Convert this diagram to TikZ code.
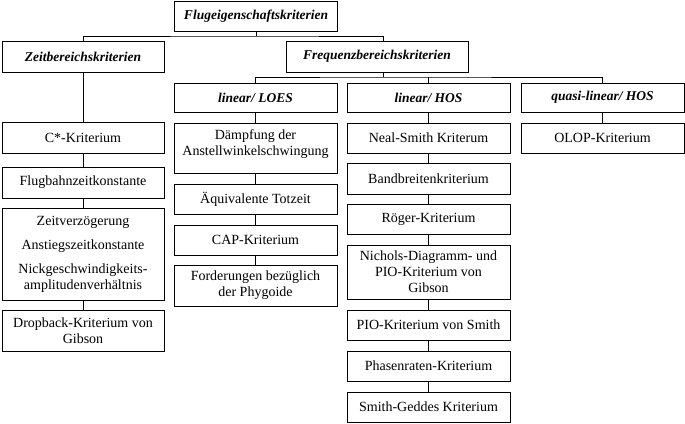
\documentclass[tikz,border=0pt]{standalone}
\usepackage{fontspec}
\setmainfont{Liberation Serif}
\usepackage{tikz}

\begin{document}
\begin{tikzpicture}[x=1pt,y=-1pt,
        box/.style={draw,line width=0.8pt,align=center,inner sep=0pt,
            minimum width=163pt,minimum height=#1,
            font=\fontsize{14}{16}\selectfont},
        box/.default=30pt,
        head/.style={box=#1,font=\fontsize{13.5}{16}\selectfont\bfseries\itshape},
        head/.default=30pt,
        link/.style={line width=0.8pt}]
        \useasboundingbox (0,0) rectangle (685,423);
        % Kopf und erste Ebene
        \node[head] (top) at (256,16) {Flugeigenschaftskriterien};
        \node[head=31pt,minimum width=162pt] (zeit) at (83,56.5) {Zeitbereichskriterien};
        \node[head=31pt,minimum width=182pt] (freq) at (377,56.5) {Frequenzbereichskriterien};
        \node[head=29pt] (loes) at (255.5,97.5) {linear/ LOES};
        \node[head=29pt] (hos) at (428.5,97.5) {linear/ HOS};
        \node[head=29pt] (quasi) at (602.5,97.5) {quasi-linear/ HOS};
        % Zeitbereich
        \node[box=31pt,minimum width=162pt] (cstar) at (83,137.5) {C*-Kriterium};
        \node[box=31pt,minimum width=162pt] (flug) at (83,182.5) {Flugbahnzeitkonstante};
        \node[box=92pt,minimum width=162pt] (zeitv) at (83,254) {Zeitverzögerung\\[8pt]
            Anstiegszeitkonstante\\[8pt] Nickgeschwindigkeits-\\amplitudenverhältnis};
        \node[box=41pt,minimum width=162pt] (drop) at (83,330.5) {Dropback-Kriterium von\\Gibson};
        % linear/ LOES
        \node[box=50pt] (daempf) at (255.5,148) {Dämpfung der\\Anstellwinkelschwingung\\[-5pt]\mbox{}};
        \node[box] (aequi) at (255.5,199) {Äquivalente Totzeit};
        \node[box] (cap) at (255.5,240) {CAP-Kriterium};
        \node[box=41pt] (ford) at (255.5,285.5) {Forderungen bezüglich\\der Phygoide};
        % linear/ HOS
        \node[box] (neal) at (428.5,138) {Neal-Smith Kriterum};
        \node[box=31pt] (band) at (428.5,178.5) {Bandbreitenkriterium};
        \node[box] (roeger) at (428.5,219) {Röger-Kriterium};
        \node[box=54pt] (nichols) at (428.5,272) {Nichols-Diagramm- und\\PIO-Kriterium von\\Gibson};
        \node[box] (pio) at (428.5,325) {PIO-Kriterium von Smith};
        \node[box] (phasen) at (428.5,366) {Phasenraten-Kriterium};
        \node[box] (geddes) at (428.5,407) {Smith-Geddes Kriterium};
        % quasi-linear/ HOS
        \node[box] (olop) at (602.5,138) {OLOP-Kriterium};
        % Verbindungen
        \coordinate (tj) at (256,36);
        \coordinate (fj) at (383,77);
        \draw[link] (top.south) -- (tj);
        \draw[link] (zeit.north) |- (tj) -| ([xshift=6pt]freq.north);
        \draw[link] ([xshift=6pt]freq.south) -- (fj);
        \draw[link] (loes.north) |- (fj) -| (quasi.north);
        \draw[link] (hos.north) -- (hos.north |- fj);
        \foreach \a/\b in {zeit/cstar,cstar/flug,flug/zeitv,zeitv/drop,
                loes/daempf,daempf/aequi,aequi/cap,cap/ford,
                hos/neal,neal/band,band/roeger,roeger/nichols,nichols/pio,pio/phasen,phasen/geddes,
                quasi/olop}
            \draw[link] (\a.south) -- (\b.north);
\end{tikzpicture}
\end{document}
